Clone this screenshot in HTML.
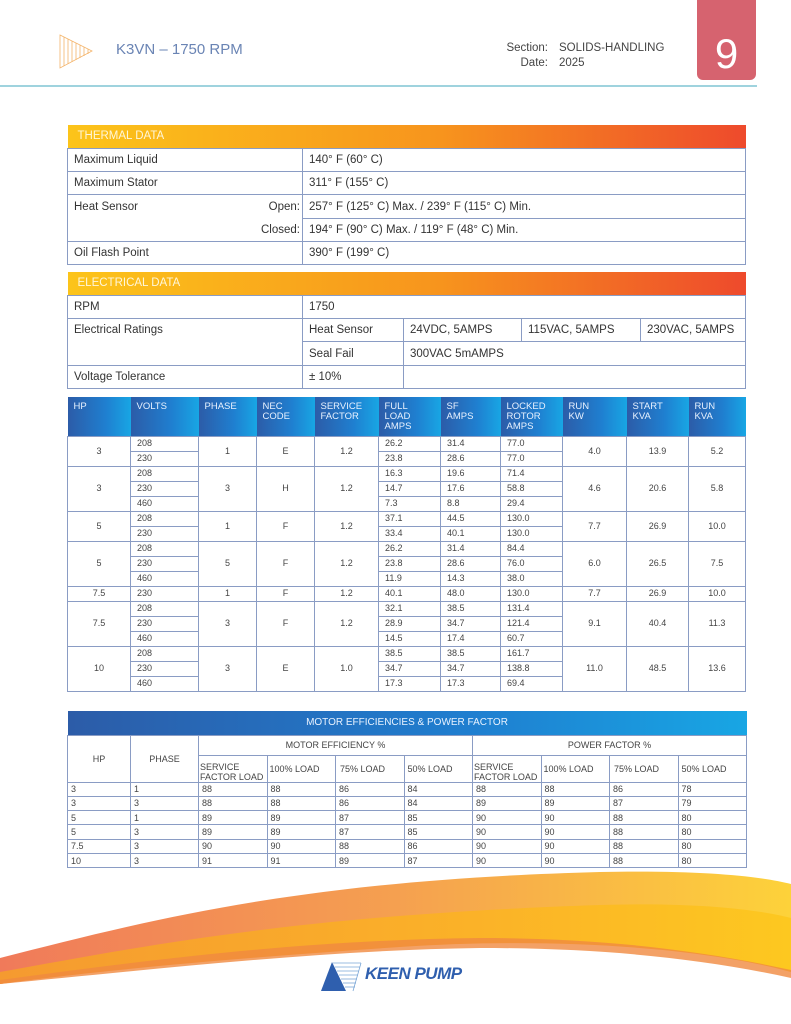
<!DOCTYPE html>
<html><head><meta charset="utf-8">
<style>
*{margin:0;padding:0;box-sizing:border-box}
body{width:791px;height:1024px;position:relative;background:#fff;font-family:"Liberation Sans",sans-serif;color:#333;overflow:hidden}
.abs{position:absolute}
table{border-collapse:collapse;table-layout:fixed;position:absolute}
td{border:1px solid #8a9cc4;padding:0 0 0 6px;white-space:nowrap;overflow:hidden}
.oh{background:linear-gradient(90deg,#fcc41a,#f7941d 55%,#ee4a2c);color:#fff6d8;font-size:11px;height:23px;padding-left:10px;border:none}
.t1 td{font-size:11.5px;height:23.3px}
.bh td{background:linear-gradient(90deg,#2c5ca8,#1f7fd0 60%,#18a6e4);color:#e8f2ff;font-size:9.5px;vertical-align:top;padding-top:5px;border:none;line-height:10px;height:39px}
.b td{font-size:9px;height:15px;line-height:13px;color:#444}
.c{text-align:center;padding:0!important}
.e td{font-size:9px;color:#444;padding-left:3px}
</style></head><body>
<svg class="abs" style="left:58px;top:34px" width="36" height="36" viewBox="0 0 36 36">
<g stroke="#f4b46a" stroke-width="0.8" fill="none">
<path d="M2 1 L34 17 L2 34 Z"/>
<line x1="6" y1="3" x2="6" y2="32"/><line x1="10" y1="5" x2="10" y2="30"/><line x1="14" y1="7" x2="14" y2="28"/><line x1="18" y1="9" x2="18" y2="26"/><line x1="22" y1="11" x2="22" y2="24"/><line x1="26" y1="13" x2="26" y2="22"/><line x1="30" y1="15" x2="30" y2="20"/>
</g></svg>
<div class="abs" style="left:116px;top:41px;font-size:15px;color:#6a84b4">K3VN – 1750 RPM</div>
<div class="abs" style="left:490px;top:41px;font-size:11.5px;color:#444;line-height:14.5px;text-align:right;width:58px">Section:<br>Date:</div>
<div class="abs" style="left:559px;top:41px;font-size:11.5px;color:#444;line-height:14.5px">SOLIDS-HANDLING<br>2025</div>
<div class="abs" style="left:697px;top:0;width:59px;height:80px;background:#d6636f;border-radius:0 0 6px 6px;color:#fff;font-size:42px;text-align:center;line-height:108px">9</div>
<div class="abs" style="left:0;top:85px;width:757px;height:2px;background:#9fd3de"></div>

<table style="left:67px;top:125px;width:679px" class="t1">
<colgroup><col style="width:235px"><col></colgroup>
<tr><td class="oh" colspan="2">THERMAL DATA</td></tr>
<tr><td>Maximum Liquid</td><td>140° F (60° C)</td></tr>
<tr><td>Maximum Stator</td><td>311° F (155° C)</td></tr>
<tr><td style="border-bottom:none">Heat Sensor<span style="float:right;padding-right:2px">Open:</span></td><td>257° F (125° C) Max. / 239° F (115° C) Min.</td></tr>
<tr><td style="border-top:none;text-align:right;padding-right:2px">Closed:</td><td>194° F (90° C) Max. / 119° F (48° C) Min.</td></tr>
<tr><td>Oil Flash Point</td><td>390° F (199° C)</td></tr>
</table>

<table style="left:67px;top:272px;width:679px" class="t1">
<colgroup><col style="width:235px"><col style="width:101px"><col style="width:118px"><col style="width:119px"><col></colgroup>
<tr><td class="oh" colspan="5">ELECTRICAL DATA</td></tr>
<tr><td>RPM</td><td colspan="4">1750</td></tr>
<tr><td style="border-bottom:none">Electrical Ratings</td><td>Heat Sensor</td><td>24VDC, 5AMPS</td><td>115VAC, 5AMPS</td><td>230VAC, 5AMPS</td></tr>
<tr><td style="border-top:none"></td><td>Seal Fail</td><td colspan="3">300VAC 5mAMPS</td></tr>
<tr><td>Voltage Tolerance</td><td>± 10%</td><td colspan="3"></td></tr>
</table>

<table style="left:67px;top:397px;width:679px">
<colgroup><col style="width:63px"><col style="width:68px"><col style="width:58px"><col style="width:58px"><col style="width:64px"><col style="width:62px"><col style="width:60px"><col style="width:62px"><col style="width:64px"><col style="width:62px"><col></colgroup>
<tr class="bh"><td>HP</td><td>VOLTS</td><td>PHASE</td><td>NEC<br>CODE</td><td>SERVICE<br>FACTOR</td><td>FULL<br>LOAD<br>AMPS</td><td>SF<br>AMPS</td><td>LOCKED<br>ROTOR<br>AMPS</td><td>RUN<br>KW</td><td>START<br>KVA</td><td>RUN<br>KVA</td></tr>
<tbody class="b">
<tr><td class="c" rowspan="2">3</td><td>208</td><td class="c" rowspan="2">1</td><td class="c" rowspan="2">E</td><td class="c" rowspan="2">1.2</td><td>26.2</td><td>31.4</td><td>77.0</td><td class="c" rowspan="2">4.0</td><td class="c" rowspan="2">13.9</td><td class="c" rowspan="2">5.2</td></tr>
<tr><td>230</td><td>23.8</td><td>28.6</td><td>77.0</td></tr>
<tr><td class="c" rowspan="3">3</td><td>208</td><td class="c" rowspan="3">3</td><td class="c" rowspan="3">H</td><td class="c" rowspan="3">1.2</td><td>16.3</td><td>19.6</td><td>71.4</td><td class="c" rowspan="3">4.6</td><td class="c" rowspan="3">20.6</td><td class="c" rowspan="3">5.8</td></tr>
<tr><td>230</td><td>14.7</td><td>17.6</td><td>58.8</td></tr>
<tr><td>460</td><td>7.3</td><td>8.8</td><td>29.4</td></tr>
<tr><td class="c" rowspan="2">5</td><td>208</td><td class="c" rowspan="2">1</td><td class="c" rowspan="2">F</td><td class="c" rowspan="2">1.2</td><td>37.1</td><td>44.5</td><td>130.0</td><td class="c" rowspan="2">7.7</td><td class="c" rowspan="2">26.9</td><td class="c" rowspan="2">10.0</td></tr>
<tr><td>230</td><td>33.4</td><td>40.1</td><td>130.0</td></tr>
<tr><td class="c" rowspan="3">5</td><td>208</td><td class="c" rowspan="3">5</td><td class="c" rowspan="3">F</td><td class="c" rowspan="3">1.2</td><td>26.2</td><td>31.4</td><td>84.4</td><td class="c" rowspan="3">6.0</td><td class="c" rowspan="3">26.5</td><td class="c" rowspan="3">7.5</td></tr>
<tr><td>230</td><td>23.8</td><td>28.6</td><td>76.0</td></tr>
<tr><td>460</td><td>11.9</td><td>14.3</td><td>38.0</td></tr>
<tr><td class="c">7.5</td><td>230</td><td class="c">1</td><td class="c">F</td><td class="c">1.2</td><td>40.1</td><td>48.0</td><td>130.0</td><td class="c">7.7</td><td class="c">26.9</td><td class="c">10.0</td></tr>
<tr><td class="c" rowspan="3">7.5</td><td>208</td><td class="c" rowspan="3">3</td><td class="c" rowspan="3">F</td><td class="c" rowspan="3">1.2</td><td>32.1</td><td>38.5</td><td>131.4</td><td class="c" rowspan="3">9.1</td><td class="c" rowspan="3">40.4</td><td class="c" rowspan="3">11.3</td></tr>
<tr><td>230</td><td>28.9</td><td>34.7</td><td>121.4</td></tr>
<tr><td>460</td><td>14.5</td><td>17.4</td><td>60.7</td></tr>
<tr><td class="c" rowspan="3">10</td><td>208</td><td class="c" rowspan="3">3</td><td class="c" rowspan="3">E</td><td class="c" rowspan="3">1.0</td><td>38.5</td><td>38.5</td><td>161.7</td><td class="c" rowspan="3">11.0</td><td class="c" rowspan="3">48.5</td><td class="c" rowspan="3">13.6</td></tr>
<tr><td>230</td><td>34.7</td><td>34.7</td><td>138.8</td></tr>
<tr><td>460</td><td>17.3</td><td>17.3</td><td>69.4</td></tr>
</tbody></table>

<table style="left:67px;top:711px;width:679px" class="e">
<colgroup><col style="width:63px"><col style="width:68px"><col span="8" style="width:68.5px"></colgroup>
<tr><td colspan="10" class="c" style="height:24px;background:linear-gradient(90deg,#2c5ca8,#1f7fd0 60%,#18a6e4);color:#e8f2ff;font-size:10px;border:none">MOTOR EFFICIENCIES &amp; POWER FACTOR</td></tr>
<tr><td rowspan="2" class="c">HP</td><td rowspan="2" class="c">PHASE</td><td colspan="4" class="c" style="height:20px">MOTOR EFFICIENCY %</td><td colspan="4" class="c">POWER FACTOR %</td></tr>
<tr style="height:25px"><td style="padding-left:1px;line-height:10px;vertical-align:top;padding-top:6px">SERVICE<br>FACTOR LOAD</td><td style="padding-left:2px">100% LOAD</td><td style="padding-left:4px">75% LOAD</td><td>50% LOAD</td><td style="padding-left:1px;line-height:10px;vertical-align:top;padding-top:6px">SERVICE<br>FACTOR LOAD</td><td style="padding-left:2px">100% LOAD</td><td style="padding-left:4px">75% LOAD</td><td>50% LOAD</td></tr>
<tr style="height:14.3px"><td>3</td><td>1</td><td>88</td><td>88</td><td>86</td><td>84</td><td>88</td><td>88</td><td>86</td><td>78</td></tr>
<tr style="height:14.3px"><td>3</td><td>3</td><td>88</td><td>88</td><td>86</td><td>84</td><td>89</td><td>89</td><td>87</td><td>79</td></tr>
<tr style="height:14.3px"><td>5</td><td>1</td><td>89</td><td>89</td><td>87</td><td>85</td><td>90</td><td>90</td><td>88</td><td>80</td></tr>
<tr style="height:14.3px"><td>5</td><td>3</td><td>89</td><td>89</td><td>87</td><td>85</td><td>90</td><td>90</td><td>88</td><td>80</td></tr>
<tr style="height:14.3px"><td>7.5</td><td>3</td><td>90</td><td>90</td><td>88</td><td>86</td><td>90</td><td>90</td><td>88</td><td>80</td></tr>
<tr style="height:14.3px"><td>10</td><td>3</td><td>91</td><td>91</td><td>89</td><td>87</td><td>90</td><td>90</td><td>88</td><td>80</td></tr>
</table>

<svg class="abs" style="left:0;top:860px" width="791" height="164" viewBox="0 0 791 164">
<defs>
<linearGradient id="g1" x1="0" x2="1"><stop offset="0" stop-color="#f07a5a"/><stop offset="0.5" stop-color="#f5a050"/><stop offset="1" stop-color="#fdd23a"/></linearGradient>
<linearGradient id="g2" x1="0" x2="1"><stop offset="0" stop-color="#f59a30"/><stop offset="0.6" stop-color="#fbb228"/><stop offset="1" stop-color="#fdc820"/></linearGradient>
</defs>
<path d="M0 98 C150 60 300 20 600 12 C700 10 760 16 791 24 L791 112 C700 82 550 74 400 84 C250 94 100 110 0 124 Z" fill="url(#g1)"/>
<path d="M0 112 C150 85 300 55 600 45 C700 42 760 50 791 58 L791 112 C700 87 550 77 400 87 C250 97 100 110 0 124 Z" fill="url(#g2)"/>
<path d="M0 120 C150 100 300 80 480 78 C600 78 700 90 791 110 L791 118 C700 98 600 88 480 88 C320 90 150 110 0 124 Z" fill="#f08a40" opacity="0.8"/>
</svg>
<svg class="abs" style="left:320px;top:960px" width="45" height="32" viewBox="0 0 45 32">
<path d="M1 31 L12 2 L26 31 Z" fill="#2f5fae"/>
<g stroke="#7aa6d6" stroke-width="0.8"><line x1="13" y1="3" x2="41" y2="3"/><line x1="15" y1="7" x2="40" y2="7"/><line x1="17" y1="11" x2="39" y2="11"/><line x1="19" y1="15" x2="38" y2="15"/><line x1="21" y1="19" x2="37" y2="19"/><line x1="23" y1="23" x2="36" y2="23"/><line x1="25" y1="27" x2="35" y2="27"/></g>
<path d="M41 3 L33 31" stroke="#7aa6d6" stroke-width="0.8"/>
</svg>
<div class="abs" style="left:365px;top:964px;font-size:17px;font-weight:bold;font-style:italic;color:#2f5fae;letter-spacing:-0.5px">KEEN PUMP</div>
</body></html>
